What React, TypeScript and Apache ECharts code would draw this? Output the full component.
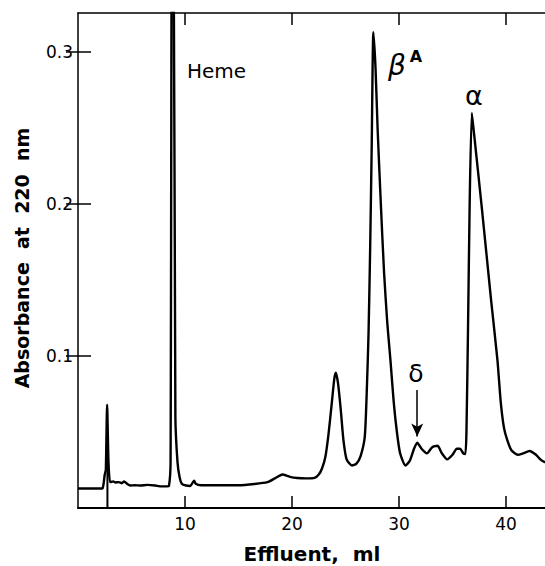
import React, { useEffect, useRef } from "react";
import * as echarts from "echarts";

// Effluent volume (ml) and absorbance at 220 nm
const effluentMl = [
  0, 1, 2, 2.3, 2.5, 2.6, 2.72, 2.85, 3.0, 3.3, 3.5, 3.8, 4.1, 4.3, 4.6, 4.9, 5.3, 5.8, 6.5, 7.2, 7.8, 8.3,
  8.5, 8.65, 8.78, 8.92, 9.1, 9.3, 9.5, 9.7, 10.1, 10.5, 10.7, 10.85, 11.0, 11.5, 13, 15, 16.5, 17.7, 18.4,
  19.1, 19.8, 20.5, 21.3, 22.1, 22.5, 22.8, 23.1, 23.4, 23.7, 23.95, 24.1, 24.3, 24.55, 24.8, 25.1, 25.6,
  26.0, 26.4, 26.8, 27.0, 27.15, 27.3, 27.45, 27.6, 27.8, 28.0, 28.3, 28.6, 28.9, 29.2, 29.5, 29.8, 30.1,
  30.6, 31.0, 31.4, 31.7, 32.1, 32.6, 33.1, 33.6, 34.0, 34.5, 35.0, 35.4, 35.7, 36.0, 36.2, 36.3, 36.45,
  36.6, 36.8, 37.0, 37.7, 38.6, 39.2, 39.5, 39.8, 40.1, 40.5, 41.1, 41.6, 42.2, 42.8, 43.2, 43.64,
];
const absorbance = [
  0.0128, 0.0128, 0.0128, 0.013, 0.022, 0.025, 0.068, 0.03, 0.017, 0.0175, 0.0168, 0.017, 0.0163, 0.0175,
  0.0158, 0.0148, 0.015, 0.0148, 0.0152, 0.0148, 0.0142, 0.0142,
  0.0145, 0.03, 0.4, 0.4, 0.06, 0.03, 0.02, 0.016, 0.0148, 0.0145, 0.0165, 0.018, 0.016, 0.015, 0.015,
  0.015, 0.0158, 0.017, 0.0195,
  0.022, 0.0205, 0.0197, 0.0195, 0.0198, 0.022, 0.026, 0.033, 0.048, 0.068, 0.085, 0.089, 0.082, 0.065,
  0.045, 0.032, 0.028,
  0.029, 0.034, 0.047, 0.08, 0.115, 0.17, 0.24, 0.313, 0.29, 0.249, 0.2, 0.155, 0.122, 0.097, 0.07, 0.05,
  0.036,
  0.028, 0.031, 0.039, 0.043, 0.039, 0.036, 0.04, 0.041, 0.036, 0.032, 0.035, 0.039, 0.039, 0.036, 0.0355,
  0.05, 0.12,
  0.2, 0.26, 0.247, 0.2, 0.137, 0.097, 0.07, 0.053, 0.045, 0.038, 0.035, 0.036, 0.0375, 0.035, 0.032, 0.03,
];

// Injection marker (vertical line down to the axis)
const markerMl = [2.75, 2.75];
const markerAbs = [0, 0.03];

// Delta arrow (data coordinates)
const deltaArrowMl = [31.7, 31.7];
const deltaArrowAbs = [0.0776, 0.047];

const xTickValues = [10, 20, 30, 40];
const yTickValues = [0.1, 0.2, 0.3];
const xMin = 0;
const xMax = 43.64;
const yMin = 0;
const yMax = 0.3257;

const FONT = "DejaVu Sans";

export default function App() {
  const ref = useRef<HTMLDivElement>(null);

  useEffect(() => {
    if (!ref.current) return;
    const chart = echarts.init(ref.current, undefined, { renderer: "svg" });

    const tickStyle = { color: "#000", width: 1.5 };

    const option: any = {
      animation: false,
      backgroundColor: "#fff",
      grid: { left: 78, top: 13, right: 0, bottom: 58 },
      xAxis: [
        {
          type: "value",
          position: "bottom",
          min: xMin,
          max: xMax,
          axisLine: { show: true, onZero: false, lineStyle: { color: "#000", width: 2 } },
          axisTick: { show: true, inside: true, length: 12, lineStyle: tickStyle, customValues: xTickValues },
          axisLabel: {
            customValues: xTickValues,
            color: "#000",
            fontSize: 17,
            fontFamily: FONT,
            margin: 7,
          },
          splitLine: { show: false },
        },
        {
          type: "value",
          position: "top",
          min: xMin,
          max: xMax,
          axisLine: { show: true, onZero: false, lineStyle: { color: "#000", width: 1.5 } },
          axisTick: { show: true, inside: true, length: 12, lineStyle: tickStyle, customValues: xTickValues },
          axisLabel: { show: false },
          splitLine: { show: false },
        },
      ],
      yAxis: [
        {
          type: "value",
          position: "left",
          min: yMin,
          max: yMax,
          axisLine: { show: true, onZero: false, lineStyle: { color: "#000", width: 1.5 } },
          axisTick: { show: true, inside: true, length: 13, lineStyle: tickStyle, customValues: yTickValues },
          axisLabel: {
            customValues: yTickValues,
            color: "#000",
            fontSize: 17,
            fontFamily: FONT,
            margin: 5,
            formatter: (v: number) => v.toFixed(1),
          },
          splitLine: { show: false },
        },
        {
          type: "value",
          position: "right",
          min: yMin,
          max: yMax,
          axisLine: { show: false },
          axisTick: { show: true, inside: true, length: 12, lineStyle: tickStyle, customValues: yTickValues },
          axisLabel: { show: false },
          splitLine: { show: false },
        },
      ],
      series: [
        {
          type: "line",
          data: effluentMl.map((x, i) => [x, absorbance[i]]),
          showSymbol: false,
          symbol: "none",
          smooth: 0.2,
          clip: true,
          lineStyle: { color: "#000", width: 2.4 },
          markLine: {
            silent: true,
            symbol: ["none", "arrow"],
            symbolSize: [9, 13],
            label: { show: false },
            lineStyle: { color: "#000", width: 1.5, type: "solid" },
            data: [
              [
                { coord: [deltaArrowMl[0], deltaArrowAbs[0]] },
                { coord: [deltaArrowMl[1], deltaArrowAbs[1]] },
              ],
            ],
          },
        },
        {
          type: "line",
          data: markerMl.map((x, i) => [x, markerAbs[i]]),
          showSymbol: false,
          symbol: "none",
          lineStyle: { color: "#000", width: 2 },
        },
      ],
      graphic: [
        {
          type: "text",
          x: 22,
          y: 258,
          rotation: Math.PI / 2,
          style: {
            text: "Absorbance  at  220  nm",
            fontFamily: FONT,
            fontSize: 19,
            fontWeight: "bold",
            fill: "#000",
            align: "center",
            verticalAlign: "middle",
          },
        },
        {
          type: "text",
          x: 312,
          y: 554,
          style: {
            text: "Effluent,  ml",
            fontFamily: FONT,
            fontSize: 20,
            fontWeight: "bold",
            fill: "#000",
            align: "center",
            verticalAlign: "middle",
          },
        },
        {
          type: "text",
          x: 187,
          y: 71,
          style: {
            text: "Heme",
            fontFamily: FONT,
            fontSize: 20,
            fontWeight: 500,
            fill: "#000",
            align: "left",
            verticalAlign: "middle",
          },
        },
        {
          type: "text",
          x: 397,
          y: 65,
          style: {
            text: "β",
            fontFamily: FONT,
            fontSize: 28,
            fontStyle: "italic",
            fill: "#000",
            align: "center",
            verticalAlign: "middle",
          },
        },
        {
          type: "text",
          x: 416,
          y: 56,
          style: {
            text: "A",
            fontFamily: FONT,
            fontSize: 16,
            fontWeight: "bold",
            fill: "#000",
            align: "center",
            verticalAlign: "middle",
          },
        },
        {
          type: "text",
          x: 474,
          y: 95,
          style: {
            text: "α",
            fontFamily: FONT,
            fontSize: 27,
            fill: "#000",
            align: "center",
            verticalAlign: "middle",
          },
        },
        {
          type: "text",
          x: 416,
          y: 373,
          style: {
            text: "δ",
            fontFamily: FONT,
            fontSize: 25,
            fill: "#000",
            align: "center",
            verticalAlign: "middle",
          },
        },
      ],
    };

    chart.setOption(option);
    return () => chart.dispose();
  }, []);

  return (
    <div
      ref={ref}
      style={{ position: "absolute", left: 0, top: 0, width: 545, height: 566, background: "#fff" }}
    />
  );
}
